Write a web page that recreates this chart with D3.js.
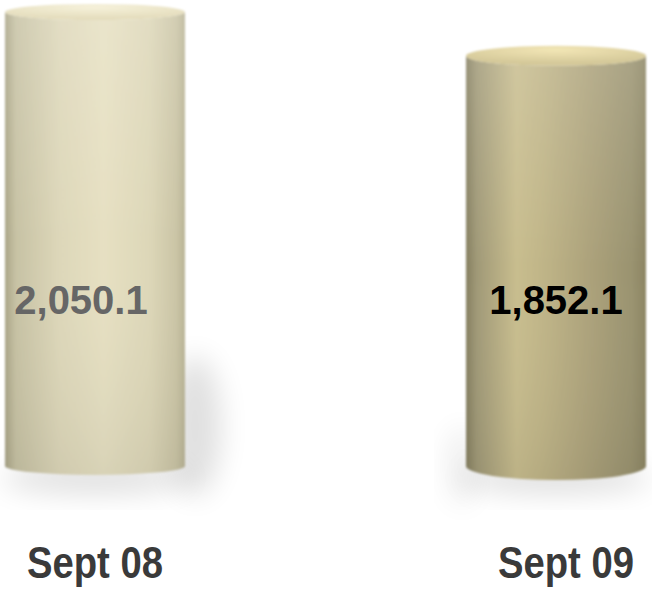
<!DOCTYPE html>
<html>
<head>
<meta charset="utf-8">
<script src="https://cdn.jsdelivr.net/npm/d3@7/dist/d3.min.js"></script>
<style>
  html, body { margin: 0; padding: 0; background: #fff; }
  svg { display: block; }
</style>
</head>
<body>
<svg id="chart" width="652" height="609"></svg>
<script>
// Values for the two periods
const categories = ["Sept 08", "Sept 09"];
const values = [2050.1, 1852.1];
const valueLabels = ["2,050.1", "1,852.1"];

const W = 652, H = 609;
const baseY = 466;      // centre of the base ellipse
const topY = 12;        // centre of the top ellipse for the largest value
const cylW = 180;

const svg = d3.select("#chart");
const defs = svg.append("defs");

const x = d3.scalePoint().domain(categories).range([95, 556]);
const y = d3.scaleLinear().domain([0, d3.max(values)]).range([baseY, topY]);

// colour themes per cylinder: side gradient stops, top colours, label colour
const themes = [
  {
    side: [[0, "#aaa587"], [0.06, "#c7c2a4"], [0.3, "#ddd7b9"], [0.55, "#e6e0c2"], [0.8, "#ddd7b8"], [0.95, "#cbc5a6"], [1, "#b9b496"]],
    top: ["#f6f1da", "#e4ddbd"],
    rimRy: 8, baseRy: 9,
    label: "#666666", labelDx: -14, catDx: 0
  },
  {
    side: [[0, "#857f60"], [0.06, "#a09977"], [0.28, "#c8bd8e"], [0.42, "#c0b588"], [0.7, "#aba17a"], [0.92, "#9a9370"], [1, "#8c8563"]],
    top: ["#f2e6b5", "#d3c798"],
    rimRy: 10, baseRy: 14,
    label: "#000000", labelDx: 0, catDx: 10
  }
];

// soft blur for edges and shadow
const soft = defs.append("filter").attr("id", "soft").attr("x", "-5%").attr("y", "-5%").attr("width", "110%").attr("height", "110%");
soft.append("feGaussianBlur").attr("stdDeviation", 0.9);
const shadowBlur = defs.append("filter").attr("id", "shadowBlur").attr("x", "-50%").attr("y", "-50%").attr("width", "200%").attr("height", "200%");
shadowBlur.append("feGaussianBlur").attr("stdDeviation", 14);

themes.forEach((t, i) => {
  const g = defs.append("linearGradient").attr("id", "side" + i)
    .attr("x1", 0).attr("x2", 1).attr("y1", 0).attr("y2", 0);
  t.side.forEach(s => g.append("stop").attr("offset", s[0]).attr("stop-color", s[1]));
  const v = defs.append("linearGradient").attr("id", "shade" + i)
    .attr("x1", 0).attr("x2", 0).attr("y1", 0).attr("y2", 1);
  v.append("stop").attr("offset", 0).attr("stop-color", "#fff").attr("stop-opacity", 0.15);
  v.append("stop").attr("offset", 0.5).attr("stop-color", "#fff").attr("stop-opacity", 0);
  v.append("stop").attr("offset", 1).attr("stop-color", "#000").attr("stop-opacity", 0.06);
  const r = defs.append("radialGradient").attr("id", "top" + i)
    .attr("cx", 0.5).attr("cy", 0.2).attr("r", 0.7);
  r.append("stop").attr("offset", 0).attr("stop-color", t.top[0]);
  r.append("stop").attr("offset", 1).attr("stop-color", t.top[1]);
});

const data = categories.map((c, i) => ({ c, v: values[i], label: valueLabels[i], t: themes[i], i }));

// ground shadows
const shadows = svg.append("g");
shadows.append("ellipse")
  .attr("cx", x(categories[0]) + cylW / 2 + 10).attr("cy", baseY - 40)
  .attr("rx", 26).attr("ry", 70)
  .attr("fill", "#000").attr("opacity", 0.12).attr("filter", "url(#shadowBlur)");
data.forEach(d => {
  shadows.append("ellipse")
    .attr("cx", x(d.c)).attr("cy", baseY + 12)
    .attr("rx", cylW / 2 + 4).attr("ry", 16)
    .attr("fill", "#000").attr("opacity", 0.12).attr("filter", "url(#shadowBlur)");
});
shadows.append("ellipse")
  .attr("cx", x(categories[1]) - cylW / 2 - 4).attr("cy", baseY)
  .attr("rx", 14).attr("ry", 40)
  .attr("fill", "#000").attr("opacity", 0.07).attr("filter", "url(#shadowBlur)");

const cyl = svg.selectAll("g.cyl").data(data).join("g")
  .attr("class", "cyl").attr("filter", "url(#soft)");

cyl.each(function(d) {
  const g = d3.select(this);
  const cx = x(d.c), half = cylW / 2;
  const yt = y(d.v), yb = y(0);
  const rt = d.t.rimRy, rb = d.t.baseRy;
  const body = `M${cx - half},${yt} L${cx - half},${yb} A${half},${rb} 0 0 0 ${cx + half},${yb} L${cx + half},${yt} A${half},${rt} 0 0 1 ${cx - half},${yt} Z`;
  g.append("path").attr("d", body).attr("fill", `url(#side${d.i})`);
  g.append("path").attr("d", body).attr("fill", `url(#shade${d.i})`);
  g.append("ellipse").attr("cx", cx).attr("cy", yt).attr("rx", half).attr("ry", rt)
    .attr("fill", `url(#top${d.i})`);
});

// value labels on the cylinders
svg.selectAll("text.val").data(data).join("text")
  .attr("class", "val")
  .attr("x", d => x(d.c) + d.t.labelDx)
  .attr("y", 314)
  .attr("text-anchor", "middle")
  .attr("font-family", "'Liberation Sans', Arial, sans-serif")
  .attr("font-weight", "bold")
  .attr("font-size", 40)
  .attr("fill", d => d.t.label)
  .text(d => d.label);

// category labels (condensed bold)
svg.selectAll("text.cat").data(data).join("text")
  .attr("class", "cat")
  .attr("x", d => x(d.c) + d.t.catDx)
  .attr("y", 578)
  .attr("text-anchor", "middle")
  .attr("font-family", "'Liberation Sans', Arial, sans-serif")
  .attr("font-weight", "bold")
  .attr("font-size", 44)
  .attr("textLength", 136)
  .attr("lengthAdjust", "spacingAndGlyphs")
  .attr("fill", "#3a3a3a")
  .text(d => d.c);
</script>
</body>
</html>
